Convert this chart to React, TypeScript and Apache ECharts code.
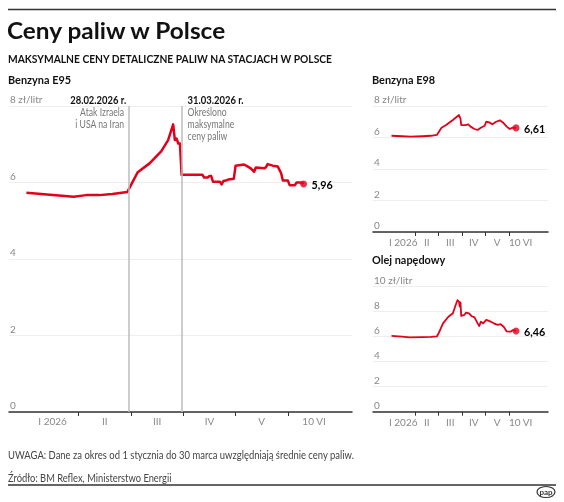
import React, { useEffect, useRef } from 'react';
import * as echarts from 'echarts';

const MONTH_DAYS = [31, 28, 31, 30, 31, 30];
const monthTickLabels = ['I 2026', 'II', 'III', 'IV', 'V', '10 VI'];
const monthLabelPositions = [0.5, 1.5, 2.5, 3.5, 4.5, 5.5];
const monthTickPositions = [1, 2, 3, 4, 5];

const e95Dates = ['01-01','01-15','01-29','02-05','02-12','02-19','02-27','03-05','03-12','03-19','03-23','03-26','03-27','03-28','03-29','03-30','03-31','04-12','04-13','04-15','04-16','04-17','04-18','04-22','04-23','04-24','04-26','04-27','04-30','05-01','05-06','05-08','05-10','05-12','05-13','05-18','05-19','05-20','05-23','05-26','05-28','05-29','06-01','06-02','06-05','06-06','06-09','06-10'];
const e95Values = [5.73,5.68,5.63,5.67,5.67,5.70,5.75,6.27,6.50,6.82,7.11,7.52,7.11,7.15,7.02,7.02,6.20,6.20,6.13,6.13,6.17,6.17,6.02,6.02,5.95,6.04,6.06,6.08,6.10,6.44,6.47,6.42,6.37,6.28,6.39,6.37,6.40,6.48,6.44,6.42,6.24,6.05,6.05,5.93,5.93,6.00,6.00,5.96];

const e98Dates = ['01-01','01-15','01-26','02-10','02-20','02-27','03-02','03-05','03-11','03-20','03-28','03-30','03-31','04-06','04-09','04-12','04-17','04-21','04-25','04-30','05-02','05-06','05-10','05-15','05-20','05-24','05-29','06-02','06-05','06-10'];
const e98Values = [6.11,6.08,6.05,6.08,6.11,6.16,6.40,6.62,6.79,7.11,7.43,7.20,6.79,6.79,6.84,6.69,6.54,6.48,6.62,6.75,7.00,6.96,6.84,7.00,7.09,6.96,6.69,6.54,6.62,6.61];

const onDates = ['01-01','01-15','01-25','02-10','02-20','02-27','03-01','03-07','03-14','03-20','03-24','03-26','03-28','03-29','03-30','03-31','04-04','04-06','04-10','04-13','04-17','04-21','04-23','04-25','04-28','05-02','05-08','05-12','05-17','05-21','05-25','05-29','06-03','06-06','06-10'];
const onValues = [6.06,6.00,5.95,5.97,5.98,6.02,6.25,7.07,7.60,7.87,8.60,8.92,8.80,8.40,8.75,7.66,7.74,7.92,7.87,7.66,7.55,7.07,6.85,7.20,7.07,7.34,7.20,7.07,6.94,7.00,6.80,6.42,6.40,6.53,6.46];

const eventDates = ['02-28', '03-31'];
const eventTitles = ['28.02.2026 r.', '31.03.2026 r.'];
const eventTexts = [['Atak Izraela', 'i USA na Iran'], ['Określono', 'maksymalne', 'ceny paliw']];

const RED = '#e2001a';
const FONT = 'Lato';

function monthPos(d: string): number {
  const [m, day] = d.split('-').map(Number);
  return (m - 1) + (day - 1) / MONTH_DAYS[m - 1];
}
function toData(dates: string[], values: number[]) {
  return dates.map((d, i) => [monthPos(d), values[i]]);
}
function fmt(v: number) {
  return v.toFixed(2).replace('.', ',');
}

function makeX(gridIndex: number, min: number, max: number, margin: number) {
  return {
    type: 'value', gridIndex, min, max,
    axisLine: { show: true, onZero: false, lineStyle: { color: '#333', width: 1.5 } },
    axisTick: { show: true, customValues: monthTickPositions, length: 4, lineStyle: { color: '#333', width: 1 } },
    axisLabel: {
      show: true, customValues: monthLabelPositions, margin, color: '#888', fontSize: 10, fontFamily: FONT,
      formatter: (v: number) => {
        const i = monthLabelPositions.findIndex((p) => Math.abs(p - v) < 1e-6);
        return i >= 0 ? monthTickLabels[i] : '';
      },
    },
    splitLine: { show: false },
    minorTick: { show: false },
  };
}
function makeY(gridIndex: number, max: number) {
  return {
    type: 'value', gridIndex, min: 0, max, interval: 2,
    axisLine: { show: false }, axisTick: { show: false },
    splitLine: { show: true, lineStyle: { color: '#eeeeee', width: 1 } },
    axisLabel: {
      inside: true, margin: 1, verticalAlign: 'bottom', padding: [0, 0, 2, 0],
      color: '#888', fontSize: 10, fontFamily: FONT,
      formatter: (v: number) => (v === max ? `${v} zł/litr` : String(v)),
    },
  };
}
function lineSeries(idx: number, data: number[][], width: number, extra: any = {}) {
  return {
    type: 'line', xAxisIndex: idx, yAxisIndex: idx, data, showSymbol: false, symbol: 'none',
    lineStyle: { color: RED, width, join: 'round' }, z: 3, ...extra,
  };
}
function dotSeries(idx: number, data: number[][]) {
  const last = data[data.length - 1];
  return {
    type: 'scatter', xAxisIndex: idx, yAxisIndex: idx, data: [last], symbol: 'circle', symbolSize: 7,
    itemStyle: { color: RED }, z: 4, label: { show: false },
  };
}

export default function App() {
  const ref = useRef<HTMLDivElement>(null);
  useEffect(() => {
    const chart = echarts.init(ref.current as HTMLDivElement, null, { renderer: 'svg' });
    const e95 = toData(e95Dates, e95Values);
    const e98 = toData(e98Dates, e98Values);
    const on = toData(onDates, onValues);
    const sets = [e95, e98, on];
    chart.setOption({
      animation: false,
      textStyle: { fontFamily: FONT },
      grid: [
        { left: 9, right: 212, top: 106, bottom: 90 },
        { left: 373, right: 16, top: 106, bottom: 270 },
        { left: 373, right: 16, top: 286.7, bottom: 90.3 },
      ],
      xAxis: [makeX(0, -0.333, 6.226, 4), makeX(1, -0.787, 6.66, 5), makeX(2, -0.787, 6.66, 5)],
      yAxis: [makeY(0, 8), makeY(1, 8), makeY(2, 10)],
      series: [
        lineSeries(0, e95, 2.5, {
          markLine: {
            silent: true, symbol: 'none', label: { show: false },
            lineStyle: { color: '#bdbdbd', width: 1.5, type: 'solid' },
            data: eventDates.map((d) => ({ xAxis: monthPos(d) })),
          },
        }),
        dotSeries(0, e95),
        lineSeries(1, e98, 1.8),
        dotSeries(1, e98),
        lineSeries(2, on, 1.8),
        dotSeries(2, on),
      ],
    });

    const topY = chart.convertToPixel({ yAxisIndex: 0 }, 8) as number;
    const graphic: any[] = [];
    const txt = (text: string, x: number, y: number, size: number, weight: any, color: string, align = 'left', sx = 1) => ({
      type: 'text', silent: true, x, y, scaleX: sx,
      style: { text, x: 0, y: 0, fontSize: size, fontWeight: weight, fontFamily: FONT, fill: color, textAlign: align, textVerticalAlign: 'middle', verticalAlign: 'middle', align },
    });
    graphic.push({ type: 'line', silent: true, shape: { x1: 8, y1: 9.5, x2: 556, y2: 9.5 }, style: { stroke: '#333', lineWidth: 1.5 } });
    graphic.push(txt('Ceny paliw w Polsce', 7, 30.5, 23, 'bold', '#111', 'left', 1.06));
    graphic.push(txt('MAKSYMALNE CENY DETALICZNE PALIW NA STACJACH W POLSCE', 8, 58, 11, 'bold', '#111', 'left', 0.935));
    graphic.push(txt('Benzyna E95', 8, 79, 12, 'bold', '#111', 'left', 0.91));
    graphic.push(txt('Benzyna E98', 372, 79, 12, 'bold', '#111', 'left', 0.91));
    graphic.push(txt('Olej napędowy', 372, 259, 12, 'bold', '#111', 'left', 0.91));
    eventDates.forEach((d, i) => {
      const x = chart.convertToPixel({ xAxisIndex: 0 }, monthPos(d)) as number;
      const left = i === 0;
      graphic.push(txt(eventTitles[i], left ? x - 3 : x + 6, topY - 6, 10.5, 'bold', '#111', left ? 'right' : 'left', 0.9));
      eventTexts[i].forEach((line, j) => {
        graphic.push(txt(line, left ? x - 5 : x + 6, topY + 6 + j * 11.7, 10.8, 'normal', '#777', left ? 'right' : 'left', 0.8));
      });
    });
    sets.forEach((data, i) => {
      const last = data[data.length - 1];
      const p = chart.convertToPixel({ xAxisIndex: i, yAxisIndex: i }, last) as number[];
      graphic.push(txt(fmt(last[1]), p[0] + 8, p[1], 12, 'bold', '#000', 'left', 0.9));
    });
    graphic.push(txt('UWAGA: Dane za okres od 1 stycznia do 30 marca uwzględniają średnie ceny paliw.', 8, 455, 11, 'normal', '#444', 'left', 0.86));
    graphic.push(txt('Źródło: BM Reflex, Ministerstwo Energii', 8, 477.5, 11, 'normal', '#444', 'left', 0.85));
    graphic.push({ type: 'line', silent: true, shape: { x1: 8, y1: 485, x2: 556, y2: 485 }, style: { stroke: '#333', lineWidth: 1.5 } });
    graphic.push({ type: 'ellipse', silent: true, shape: { cx: 546, cy: 492, rx: 9, ry: 5.5 }, style: { fill: '#fff', stroke: '#333', lineWidth: 1.2 } });
    graphic.push(txt('pap', 546, 491.5, 8, 'bold', '#333', 'center'));
    chart.setOption({ graphic });
    return () => chart.dispose();
  }, []);
  return <div ref={ref} style={{ position: 'fixed', left: 0, top: 0, width: 564, height: 502 }} />;
}
